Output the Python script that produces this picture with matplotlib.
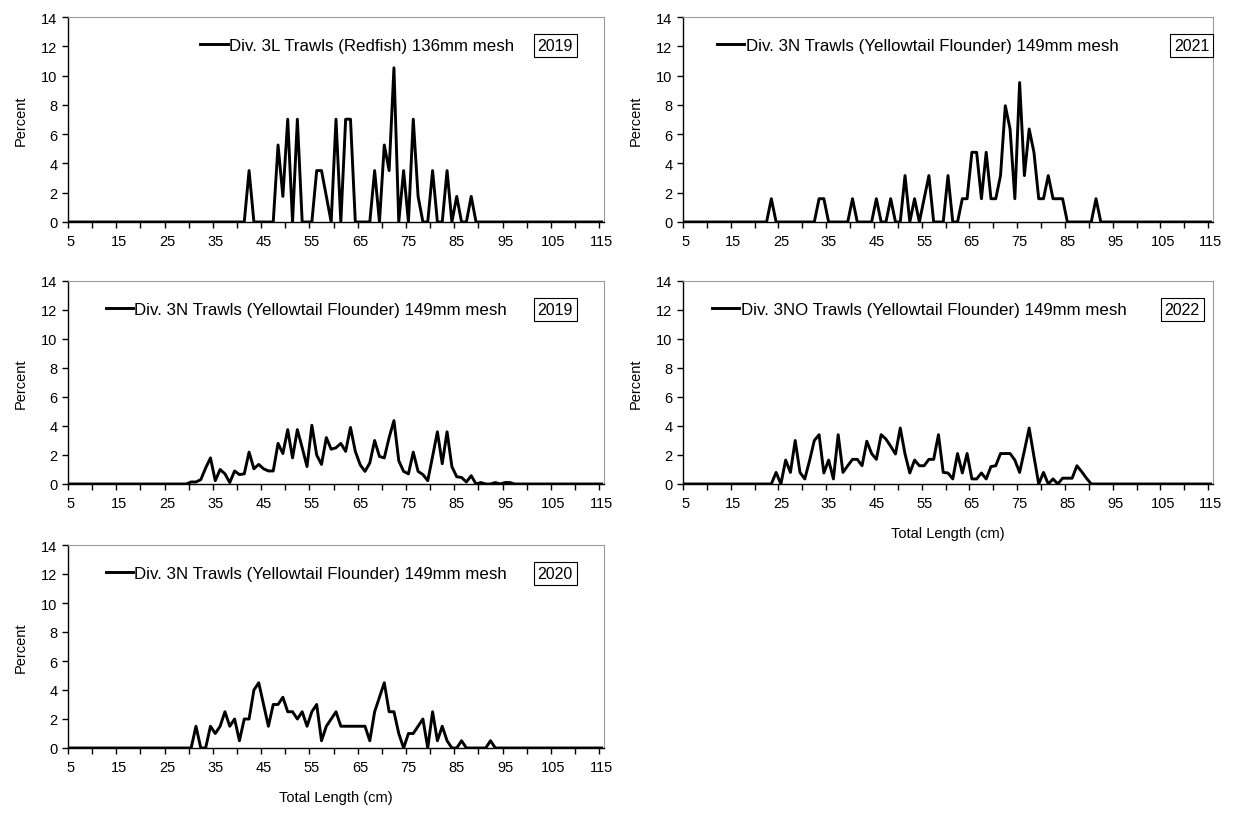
import matplotlib.pyplot as plt
import numpy as np

plt.rcParams['font.family'] = ['Liberation Sans', 'DejaVu Sans']

# length classes (cm) on the category axis
lengths = np.arange(5, 116)

# Div. 3L Redfish 2019 (values from 42 cm)
p1_start = 42
p1_vals = [3.51, 0, 0, 0, 0, 0, 5.26, 1.75, 7.02, 0, 7.02, 0, 0, 0, 3.51, 3.51, 1.75, 0,
           7.02, 0, 7.02, 7.02, 0, 0, 0, 0, 3.51, 0, 5.26, 3.51, 10.53, 0, 3.51, 0, 7.02,
           1.75, 0, 0, 3.51, 0, 0, 3.51, 0, 1.75, 0, 0, 1.75]

# Div. 3N Yellowtail 2021 (values from 23 cm)
p2_start = 23
p2_vals = [1.59, 0, 0, 0, 0, 0, 0, 0, 0, 0, 1.59, 1.59, 0, 0, 0, 0, 0, 1.59, 0, 0, 0, 0,
           1.59, 0, 0, 1.59, 0, 0, 3.17, 0, 1.59, 0, 1.59, 3.17, 0, 0, 0, 3.17, 0, 0,
           1.59, 1.59, 4.76, 4.76, 1.59, 4.76, 1.59, 1.59, 3.17, 7.94, 6.35, 1.59, 9.52,
           3.17, 6.35, 4.76, 1.59, 1.59, 3.17, 1.59, 1.59, 1.59, 0, 0, 0, 0, 0, 0, 1.59]

# Div. 3N Yellowtail 2019 (values from 30 cm)
p3_start = 30
p3_vals = [0.14, 0.14, 0.3, 1.1, 1.8, 0.23, 1.0, 0.7, 0.1, 0.9, 0.65, 0.7, 2.2, 1.05, 1.35,
           1.05, 0.9, 0.9, 2.8, 2.1, 3.75, 1.8, 3.75, 2.5, 1.2, 4.05, 2.0, 1.35, 3.2, 2.4,
           2.5, 2.8, 2.25, 3.9, 2.25, 1.33, 0.87, 1.45, 3.0, 1.9, 1.8, 3.2, 4.37, 1.6, 0.87,
           0.7, 2.2, 0.87, 0.65, 0.23, 1.9, 3.6, 1.4, 3.6, 1.2, 0.5, 0.45, 0.14, 0.57, 0,
           0.1, 0, 0, 0.1, 0, 0.1, 0.1]

# Div. 3NO Yellowtail 2022 (values from 24 cm)
p4_start = 24
p4_vals = [0.8, 0, 1.65, 0.8, 3.0, 0.8, 0.35, 1.6, 3.0, 3.4, 0.76, 1.65, 0.35, 3.4, 0.8,
           1.26, 1.7, 1.7, 1.26, 2.95, 2.1, 1.7, 3.4, 3.1, 2.6, 2.07, 3.86, 2.07, 0.76, 1.65,
           1.26, 1.26, 1.7, 1.7, 3.4, 0.8, 0.76, 0.35, 2.1, 0.76, 2.1, 0.35, 0.35, 0.76,
           0.35, 1.2, 1.26, 2.1, 2.1, 2.1, 1.65, 0.8, 2.3, 3.86, 1.9, 0, 0.8, 0, 0.35, 0,
           0.4, 0.4, 0.4, 1.26, 0.85, 0.4]

# Div. 3N Yellowtail 2020 (values from 31 cm)
p5_start = 31
p5_vals = [1.5, 0, 0, 1.5, 1.0, 1.5, 2.5, 1.5, 2.0, 0.5, 2.0, 2.0, 4.0, 4.5, 3.0, 1.5, 3.0,
           3.0, 3.5, 2.5, 2.5, 2.0, 2.5, 1.5, 2.5, 3.0, 0.5, 1.5, 2.0, 2.5, 1.5, 1.5, 1.5,
           1.5, 1.5, 1.5, 0.5, 2.5, 3.5, 4.5, 2.5, 2.5, 1.0, 0, 1.0, 1.0, 1.5, 2.0, 0, 2.5,
           0.5, 1.5, 0.5, 0, 0, 0.5, 0, 0, 0, 0, 0, 0.5]

legend_1 = "Div. 3L Trawls (Redfish) 136mm mesh"
legend_n = "Div. 3N Trawls (Yellowtail Flounder) 149mm mesh"
legend_no = "Div. 3NO Trawls (Yellowtail Flounder) 149mm mesh"


#pad a partial series with zeros over the whole length range
def full_series(start, vals):
    y = np.zeros(len(lengths))
    i = start - lengths[0]
    y[i:i + len(vals)] = vals
    return y


#one length frequency panel
def panel(fig, box, start, vals, label, year, leg_x, year_x, xlabel=False):
    W, H = 1233, 820
    l, t, w, h = box
    ax = fig.add_axes([l / W, 1 - (t + h) / H, w / W, h / H])
    ax.plot(lengths, full_series(start, vals), color='black', lw=2.1, label=label)
    ax.set_xlim(4.5, 115.5)
    ax.set_ylim(0, 14)
    ax.set_yticks(np.arange(0, 15, 2))
    ax.set_xticks(np.arange(5, 116, 10))
    ax.set_xticks(np.arange(4.5, 115, 5), minor=True)
    ax.tick_params(axis='x', which='major', length=0, labelsize=10.5, pad=9)
    ax.tick_params(axis='x', which='minor', length=4, direction='out', width=1)
    ax.tick_params(axis='y', length=4, direction='out', labelsize=10.5, width=1)
    for s in ['top', 'right']:
        ax.spines[s].set_color('#9a9a9a')
        ax.spines[s].set_linewidth(0.8)
    for s in ['left', 'bottom']:
        ax.spines[s].set_linewidth(1.0)
    ax.set_ylabel("Percent", fontsize=10.5, labelpad=10)
    if xlabel:
        ax.set_xlabel("Total Length (cm)", fontsize=10.5, labelpad=11)
    ax.legend(loc='center left', bbox_to_anchor=(leg_x, 0.86), frameon=False,
              fontsize=12.2, handlelength=1.6, handletextpad=0.1,
              borderaxespad=0, borderpad=0)
    ax.text(year_x, 0.86, year, transform=ax.transAxes, ha='center', va='center',
            fontsize=11.5, bbox=dict(boxstyle='square,pad=0.25', fc='white', ec='black', lw=0.8))
    return ax


fig = plt.figure(figsize=(12.33, 8.2), dpi=100)
panel(fig, (68, 18, 536, 205), p1_start, p1_vals, legend_1, "2019", 0.247, 0.909)
panel(fig, (683, 18, 530, 205), p2_start, p2_vals, legend_n, "2021", 0.064, 0.96)
panel(fig, (68, 282, 536, 203), p3_start, p3_vals, legend_n, "2019", 0.07, 0.909)
panel(fig, (683, 282, 530, 203), p4_start, p4_vals, legend_no, "2022", 0.055, 0.942, xlabel=True)
panel(fig, (68, 546, 536, 203), p5_start, p5_vals, legend_n, "2020", 0.07, 0.909, xlabel=True)
fig.savefig("out.png", dpi=100)
